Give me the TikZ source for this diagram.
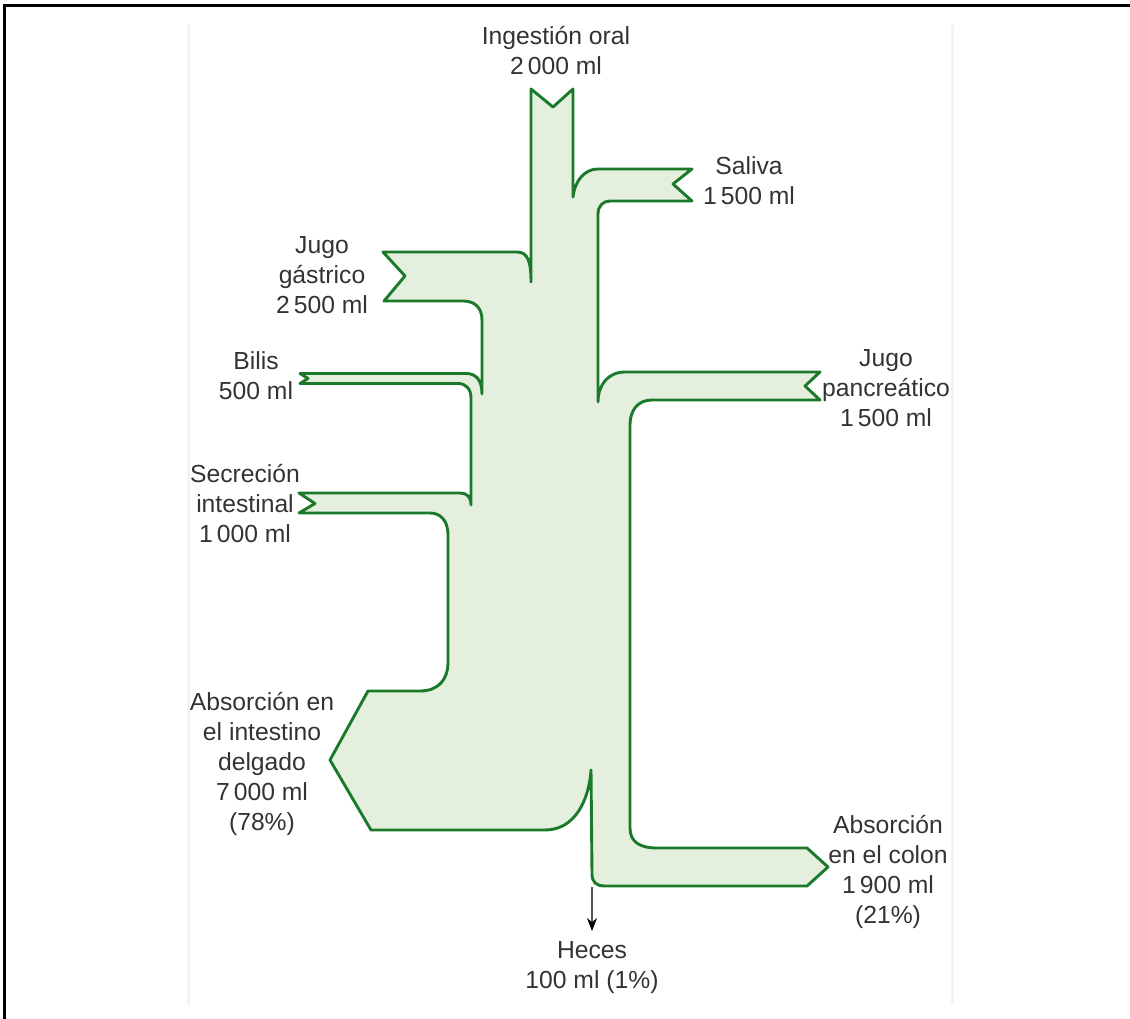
\documentclass[tikz,border=0pt]{standalone}
\usepackage{fontspec}
\setmainfont{Liberation Sans}
\usepackage{xcolor}
\usepackage{tikz}
\usetikzlibrary{
  arrows.meta,
  positioning
}
\definecolor{flowgreen}{HTML}{1A7A2A}
\definecolor{flowfill}{HTML}{E4EFDE}
\definecolor{labelgrey}{HTML}{333333}
\definecolor{guidegrey}{HTML}{F3F3F3}
\definecolor{arrowgrey}{HTML}{555555}
\tikzset{
  flowband/.style={
    draw=flowgreen, fill=flowfill, line width=2.9pt, line join=round
  },
  flowlabel/.style={
    font=\fontsize{24.7}{30}\selectfont, text=labelgrey,
    align=center, inner sep=0pt
  },
  guideline/.style={
    draw=guidegrey, line width=3pt
  },
  fecesarrow/.style={
    -{Stealth[length=13pt,width=10pt,black]}, line width=1.1pt, color=arrowgrey
  },
}

\begin{document}
\begin{tikzpicture}[x=1pt, y={(0pt,-1pt)}]
  \useasboundingbox (0,0) rectangle (1130,1019);

  %% ── Frame and guides ──────────────────────────────────────────────────────
  \draw[line width=2.6pt] (4.5,1019) -- (4.5,5.5) -- (1130,5.5);
  \draw[guideline] (188,25) -- (188,1005);
  \draw[guideline] (952,25) -- (952,1005);

  %% ── Flow band ─────────────────────────────────────────────────────────────
  \path[flowband] (531,89) -- (553,107) -- (573,89)
    -- (573,197) % saliva joins
    .. controls (575,180) and (585,169) .. (598,169)
    -- (692,169) -- (673,184) -- (692,201)
    -- (610,201) .. controls (603,201) and (598,206) .. (598,214)
    -- (598,402) % pancreatic juice joins
    .. controls (598,385) and (608,372) .. (625,372)
    -- (820,372) -- (805,386) -- (820,400)
    -- (652,400) .. controls (638,400) and (630,410) .. (630,425)
    -- (630,828) .. controls (630,842) and (640,848) .. (657,848)
    -- (807,848) -- (828,867) -- (807,886)
    -- (605,886) .. controls (596,886) and (592,882) .. (592,874)
    -- (591,770) % small intestine leaves
    .. controls (589,800) and (575,830) .. (545,830)
    -- (371,830) -- (330,760) -- (368,691)
    -- (420,691) .. controls (438,691) and (448,680) .. (448,662)
    -- (448,535) .. controls (448,520) and (440,513) .. (430,513)
    -- (299,513) -- (315,503.5) -- (299,493)
    -- (460,493) .. controls (467,493) and (471,497) .. (471,505)
    -- (471,398) .. controls (471,389) and (466,383.5) .. (458,383.5)
    -- (300,383.5) -- (308,378.5) -- (300,373.5)
    -- (466,373.5) .. controls (476,373.5) and (482,380) .. (482,394)
    -- (482,320) .. controls (482,308) and (475,301) .. (463,301)
    -- (384,301) -- (405,276) -- (383,252)
    -- (517,252) .. controls (528,252) and (531,262) .. (531,282)
    -- cycle;

  %% ── Labels ────────────────────────────────────────────────────────────────
  \node[flowlabel] (ingest)    at (556,51)  {Ingestión oral\\2\,000 ml};
  \node[flowlabel] (saliva)    at (749,181) {Saliva\\1\,500 ml};
  \node[flowlabel] (gastric)   at (322,275) {Jugo\\gástrico\\2\,500 ml};
  \node[flowlabel] (bile)      at (256,376) {Bilis\\500 ml};
  \node[flowlabel] (pancjuice) at (886,388) {Jugo\\pancreático\\1\,500 ml};
  \node[flowlabel] (intsec)    at (245,504) {Secreción\\intestinal\\1\,000 ml};
  \node[flowlabel] (siabs)     at (262,764) {Absorción en\\el intestino\\delgado\\7\,000 ml\\(78\%)};
  \node[flowlabel] (colonabs)  at (888,872) {Absorción\\en el colon\\1\,900 ml\\(21\%)};
  \node[flowlabel] (feces)     at (592,968) {Heces\\100 ml (1\%)};

  %% ── Feces outflow ─────────────────────────────────────────────────────────
  \coordinate (fecesout) at (592,887);
  \coordinate (fecestip) at (592,931);
  \draw[fecesarrow] (fecesout) -- (fecestip);

\end{tikzpicture}
\end{document}
